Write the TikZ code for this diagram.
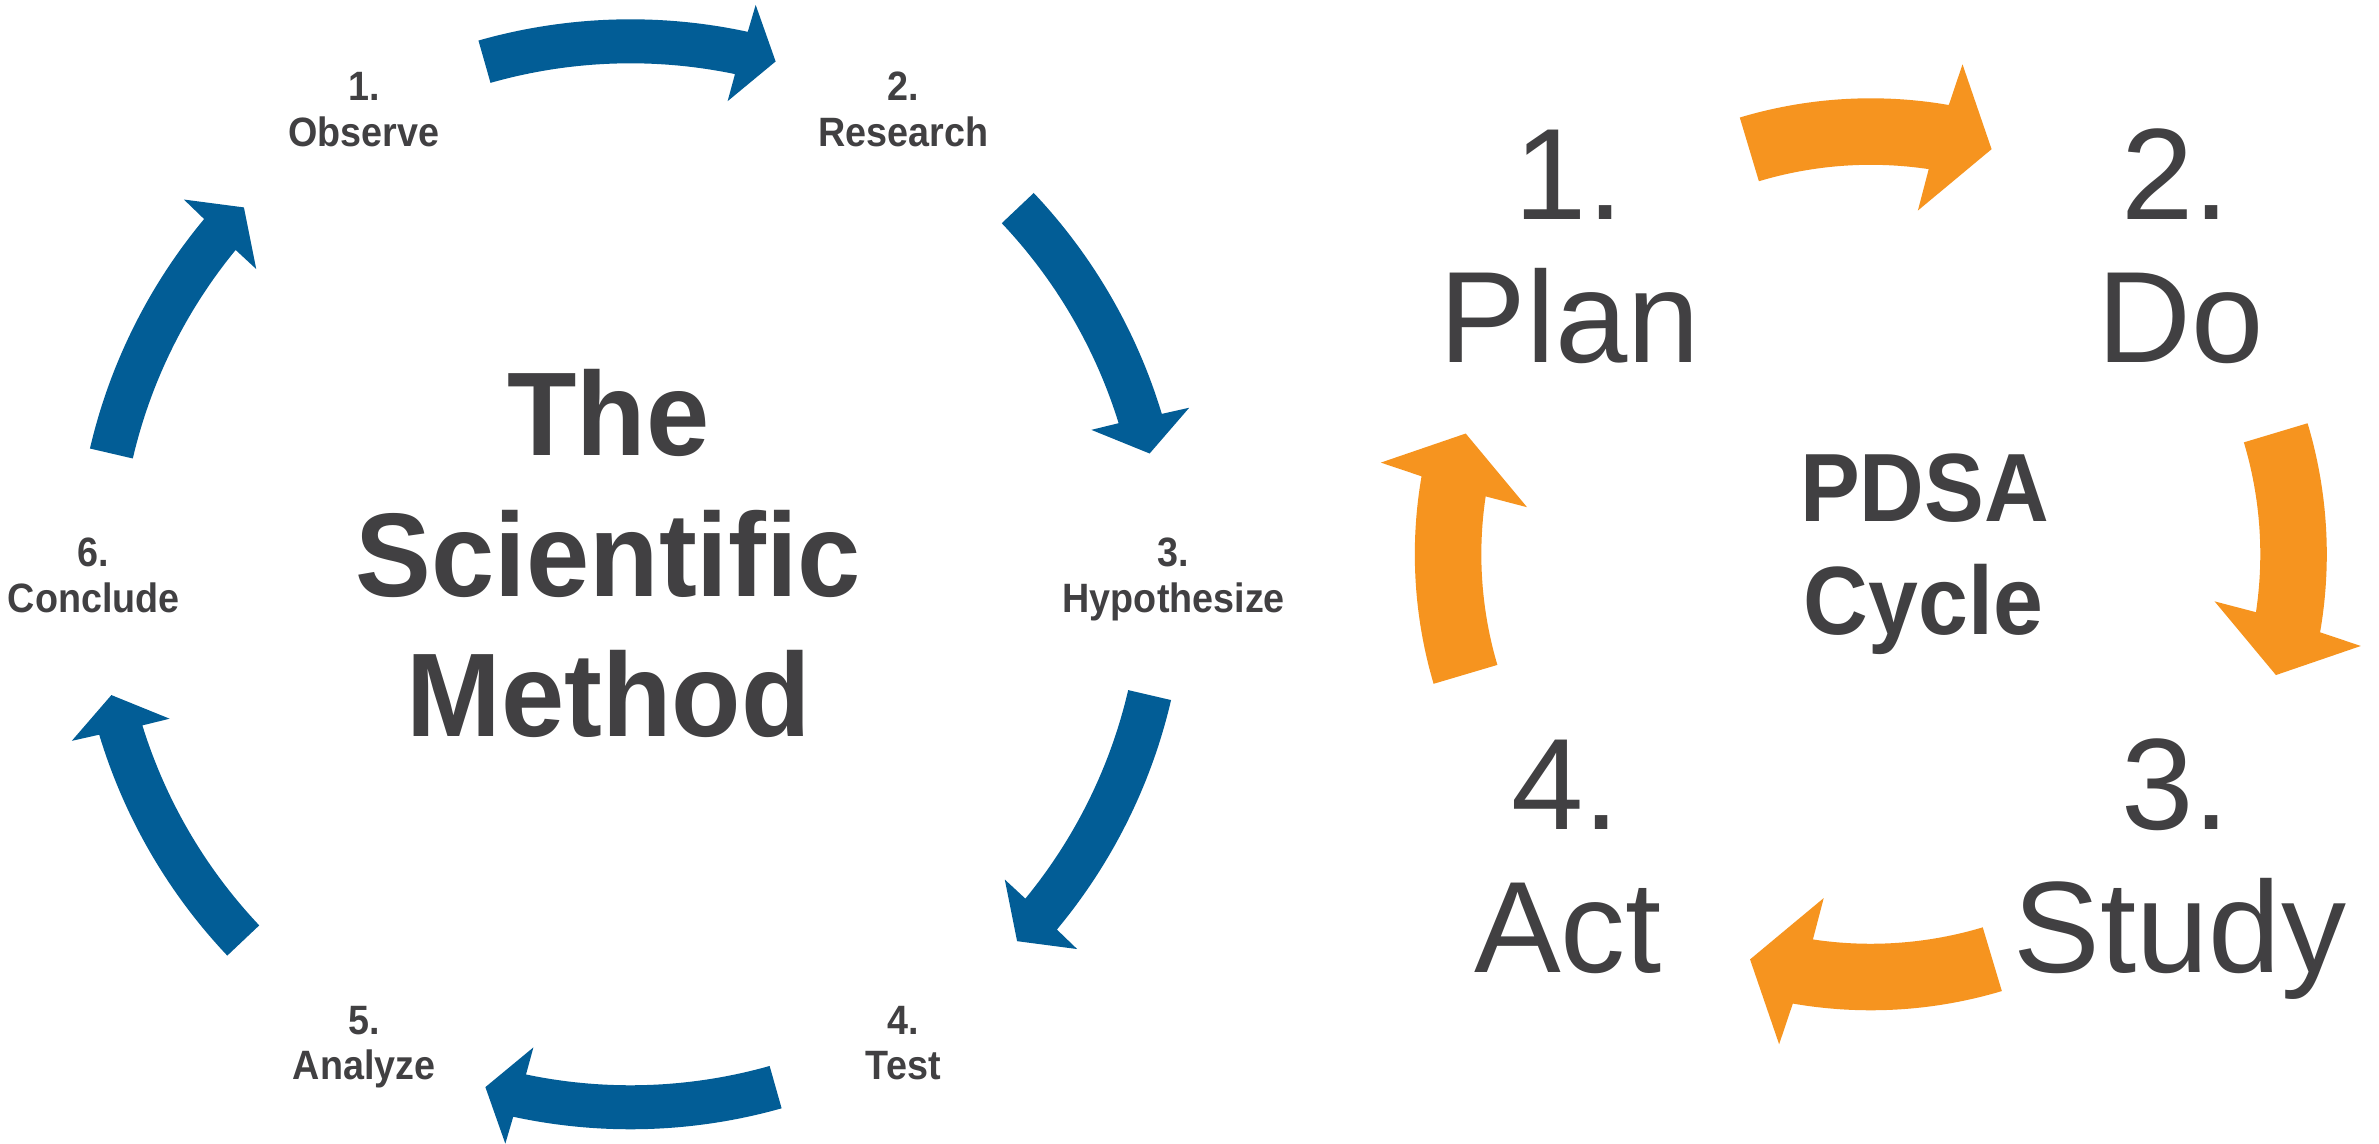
\documentclass[tikz,border=0pt]{standalone}
\usepackage{fontspec}
\setmainfont{Liberation Sans}
\newfontfamily\lblfont[FakeStretch=0.92]{Liberation Sans}
\newfontfamily\ttlfont[FakeStretch=0.955]{Liberation Sans}
\newfontfamily\pdsafont[FakeStretch=0.924]{Liberation Sans}
\definecolor{sciblue}{RGB}{2,93,150}
\definecolor{pdsaorange}{RGB}{246,148,31}
\definecolor{txtgray}{RGB}{65,64,66}
% #1 colour, #2 tail angle, #3 head angle, #4 tip angle, #5 outer r, #6 inner r,
% #7 barb extension, #8 junction offset, #9 barb offset
\newcommand{\cycarrow}[9]{%
  \fill[#1] (#2:#5) arc[start angle=#2, end angle={#3-#8}, radius=#5]
    -- ({#3-#9}:{#5+#7}) -- (#4:{(#5+#6)/2}) -- ({#3+#9}:{#6-#7})
    -- ({#3+#8}:#6) arc[start angle={#3+#8}, end angle=#2, radius=#6] -- cycle;}
\begin{document}
\begin{tikzpicture}[x=1pt, y=1pt,
  lbl/.style={text=txtgray, anchor=base, inner sep=0pt,
    font={\lblfont\bfseries\fontsize{41}{46}\selectfont}},
  ttl/.style={text=txtgray, anchor=base, inner sep=0pt,
    font={\ttlfont\bfseries\fontsize{119}{140}\selectfont}},
  big/.style={text=txtgray, anchor=base, inner sep=0pt,
    font={\fontsize{130}{143}\selectfont}},
  pdsa/.style={text=txtgray, anchor=base, inner sep=0pt,
    font={\pdsafont\bfseries\fontsize{97}{113}\selectfont}}]
\useasboundingbox (0,0) rectangle (2379,1143);
\fill[white] (0,0) rectangle (2379,1143);

% ---------- Scientific method ----------
\begin{scope}[shift={(630.5,568.7)}]
  \cycarrow{sciblue}{105.9}{78}{74.2}{555}{511}{28}{0.2}{0.4}
  \cycarrow{sciblue}{43.4}{17}{13.1}{555}{511}{28}{0.2}{0.4}
  \cycarrow{sciblue}{-13.1}{-39.6}{-43.5}{555}{511}{28}{0.2}{0.4}
  \cycarrow{sciblue}{-74.2}{-102}{-105.8}{555}{511}{28}{0.2}{0.4}
  \cycarrow{sciblue}{223.4}{197}{193.1}{555}{511}{28}{0.2}{0.4}
  \cycarrow{sciblue}{166.9}{140.4}{136.5}{555}{511}{28}{0.2}{0.4}
\end{scope}

\node[lbl] (s1n) at (364.5,1042.6) {1.};
\node[lbl] (s1t) at (363.5,996.5) {Observe};
\node[lbl] (s2n) at (903,1042.6) {2.};
\node[lbl] (s2t) at (903.5,996.5) {Research};
\node[lbl] (s3n) at (1173.5,576.7) {3.};
\node[lbl] (s3t) at (1173.8,530.5) {Hypothesize};
\node[lbl] (s4n) at (903,108.6) {4.};
\node[lbl] (s4t) at (903.3,64) {Test};
\node[lbl] (s5n) at (364,108.6) {5.};
\node[lbl] (s5t) at (364.2,64) {Analyze};
\node[lbl] (s6n) at (93.5,576.7) {6.};
\node[lbl] (s6t) at (93.8,530.5) {Conclude};

\node[ttl] (title1) at (608.5,687.3) {The};
\node[ttl] (title2) at (608.5,546) {Scientific};
\node[ttl] (title3) at (608.5,406.7) {Method};

% ---------- PDSA cycle ----------
\begin{scope}[shift={(1870.8,588.7)}]
  \cycarrow{pdsaorange}{106.7}{80.8}{73.4}{456}{389.5}{42.5}{0.65}{1.4}
  \cycarrow{pdsaorange}{16.7}{-9.2}{-16.6}{456}{389.5}{42.5}{0.65}{1.4}
  \cycarrow{pdsaorange}{-73.3}{-99.2}{-106.6}{456}{389.5}{42.5}{0.65}{1.4}
  \cycarrow{pdsaorange}{196.5}{170.8}{163.4}{456}{389.5}{42.5}{0.65}{1.4}
\end{scope}

\node[big] (p1n) at (1569,923.2) {1.};
\node[big] (p1t) at (1570,780.4) {Plan};
\node[big] (p2n) at (2175.3,923.2) {2.};
\node[big] (p2t) at (2180.4,780.4) {Do};
\node[big] (p3n) at (2175.3,313) {3.};
\node[big] (p3t) at (2180,170.1) {Study};
\node[big] (p4n) at (1565.6,313) {4.};
\node[big] (p4t) at (1568,170.1) {Act};
\node[pdsa] (pc1) at (1924.5,621.4) {PDSA};
\node[pdsa] (pc2) at (1923.5,508.6) {Cycle};
\end{tikzpicture}
\end{document}
